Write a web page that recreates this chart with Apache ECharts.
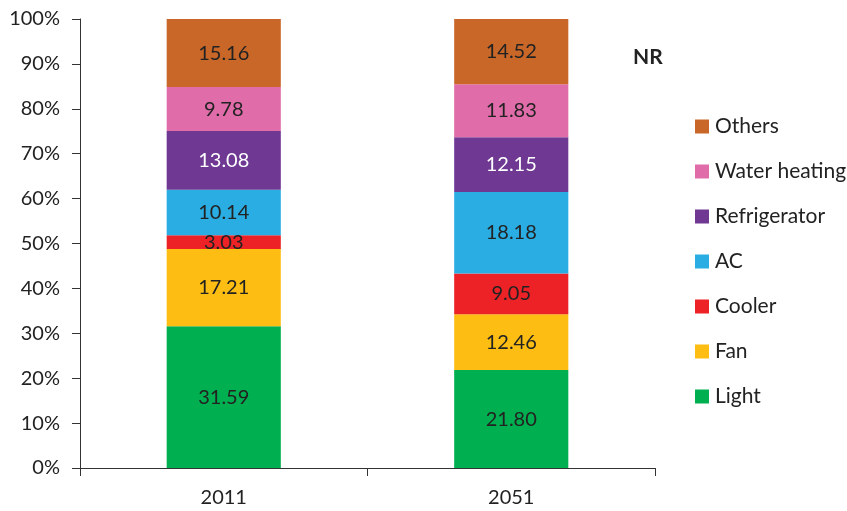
<!DOCTYPE html>
<html>
<head>
<meta charset="utf-8">
<script src="https://cdn.jsdelivr.net/npm/echarts@6/dist/echarts.min.js"></script>
<style>
  html, body { margin: 0; padding: 0; background: #fff; }
  #chart { width: 847px; height: 511px; }
</style>
</head>
<body>
<div id="chart"></div>
<script>
// Share of household electricity use by end use (%)
const years = ['2011', '2051'];
const light = [31.59, 21.80];
const fan = [17.21, 12.46];
const cooler = [3.03, 9.05];
const ac = [10.14, 18.18];
const refrigerator = [13.08, 12.15];
const waterHeating = [9.78, 11.83];
const others = [15.16, 14.52];
const yTicks = [0, 10, 20, 30, 40, 50, 60, 70, 80, 90, 100];

const FONT = 'Lato, "Open Sans", sans-serif';

const seriesDefs = [
  { name: 'Light', data: light, color: '#00AF4F', text: '#222' },
  { name: 'Fan', data: fan, color: '#FDBD12', text: '#222' },
  { name: 'Cooler', data: cooler, color: '#EC2227', text: '#222' },
  { name: 'AC', data: ac, color: '#2AADE3', text: '#222' },
  { name: 'Refrigerator', data: refrigerator, color: '#6E3893', text: '#fff' },
  { name: 'Water heating', data: waterHeating, color: '#E06CAA', text: '#222' },
  { name: 'Others', data: others, color: '#C86728', text: '#222' }
];

const chart = echarts.init(document.getElementById('chart'));
chart.setOption({
  animation: false,
  textStyle: { fontFamily: FONT },
  grid: { left: 80, right: 192, top: 19, bottom: 43, containLabel: false },
  title: {
    text: 'NR',
    left: 628, top: 42,
    textStyle: { fontFamily: FONT, fontSize: 21, fontWeight: 'bold', color: '#222' }
  },
  legend: {
    orient: 'vertical',
    left: 690, top: 111,
    itemWidth: 14, itemHeight: 14,
    itemGap: 24,
    icon: 'rect',
    data: seriesDefs.map(s => s.name).reverse(),
    textStyle: { fontFamily: FONT, fontSize: 21, color: '#222', padding: [0, 0, 0, 1] }
  },
  xAxis: {
    type: 'category',
    data: years,
    axisLine: { lineStyle: { color: '#333', width: 1 } },
    axisTick: { show: true, length: 8, alignWithLabel: false, lineStyle: { color: '#333' } },
    axisLabel: { fontFamily: FONT, fontSize: 20, color: '#222', margin: 20 }
  },
  yAxis: {
    type: 'value',
    min: yTicks[0], max: yTicks[yTicks.length - 1], interval: 10,
    axisLine: { show: true, lineStyle: { color: '#333', width: 1 } },
    axisTick: { show: true, length: 8, lineStyle: { color: '#333' } },
    splitLine: { show: false },
    axisLabel: { fontFamily: FONT, fontSize: 20, color: '#222', margin: 20, formatter: v => v + '%' }
  },
  series: seriesDefs.map(s => ({
    name: s.name,
    type: 'bar',
    stack: 'total',
    barWidth: '39.7%',
    data: s.data,
    itemStyle: { color: s.color },
    label: {
      show: true,
      position: 'inside',
      fontFamily: FONT,
      fontSize: 20,
      color: s.text,
      formatter: p => p.value.toFixed(2)
    }
  }))
});
</script>
</body>
</html>
